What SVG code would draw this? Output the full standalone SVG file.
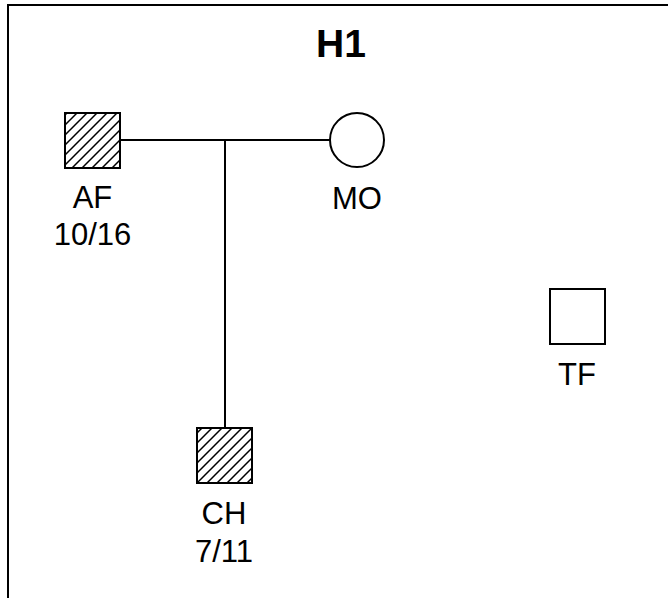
<svg xmlns="http://www.w3.org/2000/svg" width="668" height="598" viewBox="0 0 668 598">
<defs>
<pattern id="hatch" patternUnits="userSpaceOnUse" width="10" height="10">
<path d="M-2,2 L2,-2 M0,10 L10,0 M8,12 L12,8" stroke="#000" stroke-width="1.5"/>
</pattern>
<style>
.lbl{font-family:"Liberation Sans",Arial,sans-serif;font-size:31px;fill:#000;text-anchor:middle}
.shape{stroke:#000;stroke-width:2;fill:#fff}
.hatched{stroke:#000;stroke-width:2;fill:url(#hatch)}
.conn{stroke:#000;stroke-width:2;fill:none}
</style>
</defs>
<rect x="0" y="0" width="668" height="598" fill="#fff"/>
<path d="M8,598 V5 H668" stroke="#000" stroke-width="2" fill="none"/>
<text x="341" y="57" font-family="Liberation Sans,Arial,sans-serif" font-weight="bold" font-size="39" text-anchor="middle">H1</text>
<g id="connectors">
<line class="conn" x1="120" y1="140" x2="330" y2="140"/>
<line class="conn" x1="225" y1="140" x2="225" y2="428"/>
</g>
<g id="AF">
<rect class="hatched" x="65" y="113" width="55" height="55"/>
<text class="lbl" x="92.5" y="208">AF</text>
<text class="lbl" x="92.5" y="245">10/16</text>
</g>
<g id="MO">
<circle class="shape" cx="357" cy="140" r="27"/>
<text class="lbl" x="357" y="209">MO</text>
</g>
<g id="CH">
<rect class="hatched" x="197" y="428" width="55" height="55"/>
<text class="lbl" x="224" y="524">CH</text>
<text class="lbl" x="224" y="562">7/11</text>
</g>
<g id="TF">
<rect class="shape" x="550" y="289" width="55" height="55"/>
<text class="lbl" x="577" y="385">TF</text>
</g>
</svg>
